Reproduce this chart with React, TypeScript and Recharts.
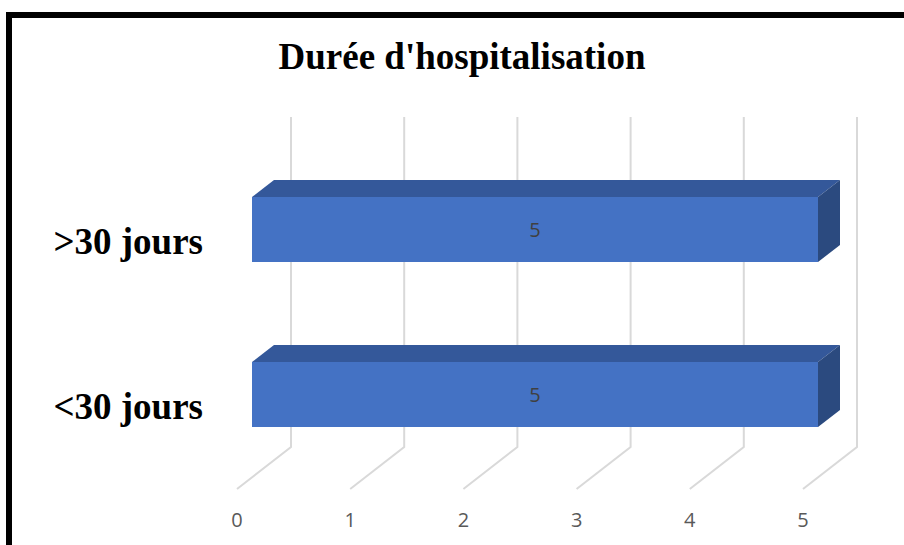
import { BarChart, Bar, XAxis, YAxis, CartesianGrid, LabelList } from 'recharts';

const CATEGORIES = ['>30 jours', '<30 jours'];
const VALUES = [5, 5];
const X_TICKS = [0, 1, 2, 3, 4, 5];

const data = CATEGORIES.map((name, i) => ({ name, value: VALUES[i] }));

// 3D look: floor depth and the bar's place inside it
const WALL_DX = 54;
const WALL_DY = -42;
const BAR_DX = 15;
const BAR_DY = -12;
const DEPTH_DX = 22;
const DEPTH_DY = -17;

const Bar3D = (props: any) => {
  const { x, y, width, height } = props;
  if (!width || width <= 0) return null;
  const fx = x + BAR_DX;
  const fy = y + BAR_DY;
  const top = `M${fx},${fy} L${fx + DEPTH_DX},${fy + DEPTH_DY} L${fx + width + DEPTH_DX},${fy + DEPTH_DY} L${fx + width},${fy} Z`;
  const side = `M${fx + width},${fy} L${fx + width + DEPTH_DX},${fy + DEPTH_DY} L${fx + width + DEPTH_DX},${fy + height + DEPTH_DY} L${fx + width},${fy + height} Z`;
  return (
    <g>
      <path d={top} fill="#34589a" />
      <path d={side} fill="#2b4a7f" />
      <rect x={fx} y={fy} width={width} height={height} fill="#4472c4" />
    </g>
  );
};

const gridLine = (props: any) => {
  const { x1, y1, y2, key } = props;
  const d = `M${x1 + WALL_DX},${y1 + WALL_DY} L${x1 + WALL_DX},${y2 + WALL_DY} L${x1},${y2}`;
  return <path key={key} d={d} fill="none" stroke="#d9d9d9" strokeWidth={2} />;
};

const CategoryTick = (props: any) => {
  const { y, payload } = props;
  return (
    <text
      x={203}
      y={y}
      dy={12}
      textAnchor="end"
      fontFamily="'Liberation Serif', serif"
      fontWeight="bold"
      fontSize={37}
      fill="#000"
    >
      {payload.value}
    </text>
  );
};

const App = () => {
  return (
    <div style={{ position: 'absolute', left: 0, top: 0, width: 904, height: 545, overflow: 'hidden', background: '#fff' }}>
      <div
        style={{
          position: 'absolute',
          left: 6,
          top: 12,
          width: 960,
          height: 600,
          border: '6px solid #000',
        }}
      />
      <div
        style={{
          position: 'absolute',
          left: 0,
          top: 35,
          width: 924,
          textAlign: 'center',
          fontFamily: "'Liberation Serif', serif",
          fontWeight: 'bold',
          fontSize: 37,
          color: '#000',
        }}
      >
        Durée d'hospitalisation
      </div>
      <div style={{ position: 'absolute', left: 0, top: 0 }}>
        <BarChart
          width={904}
          height={545}
          data={data}
          layout="vertical"
          margin={{ top: 159, right: 101, bottom: 0, left: 0 }}
        >
          <CartesianGrid horizontal={false} vertical={gridLine} />
          <XAxis
            type="number"
            domain={[0, 5]}
            ticks={X_TICKS}
            axisLine={false}
            tickLine={false}
            tickMargin={18}
            height={56}
            tick={{ fill: '#595959', fontSize: 20, fontFamily: "'Open Sans', sans-serif" }}
          />
          <YAxis
            type="category"
            dataKey="name"
            width={237}
            axisLine={false}
            tickLine={false}
            tick={<CategoryTick />}
          />
          <Bar dataKey="value" barSize={65} shape={<Bar3D />} isAnimationActive={false}>
            <LabelList
              dataKey="value"
              content={(p: any) => (
                <text
                  x={p.x + p.width / 2 + BAR_DX}
                  y={p.y + p.height / 2 + BAR_DY}
                  dy={7}
                  textAnchor="middle"
                  fill="#404040"
                  fontSize={20}
                  fontFamily="'Open Sans', sans-serif"
                >
                  {p.value}
                </text>
              )}
            />
          </Bar>
        </BarChart>
      </div>
    </div>
  );
};

export default App;
